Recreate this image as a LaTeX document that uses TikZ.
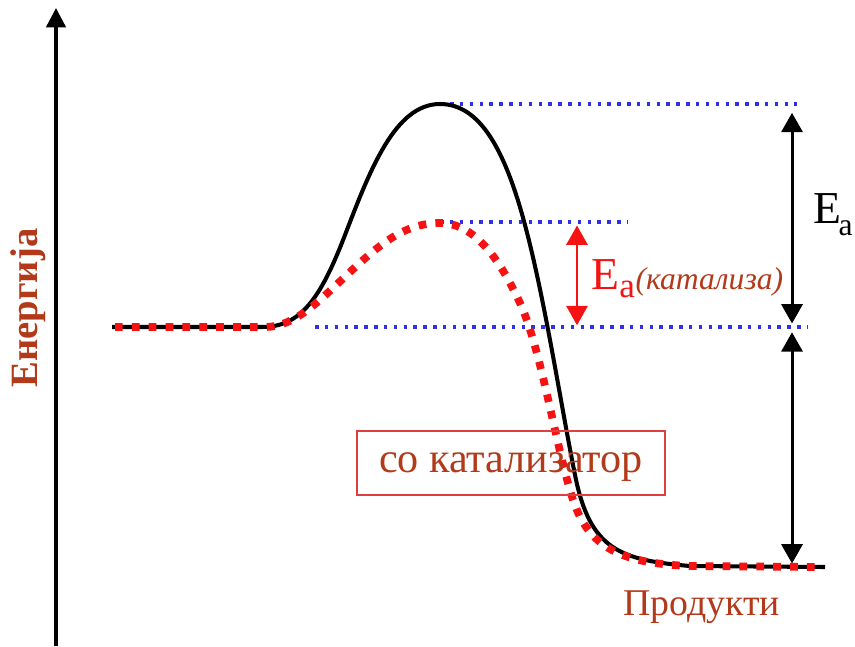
\documentclass[tikz,border=0pt]{standalone}
\usepackage{fontspec}
\setmainfont{Liberation Serif}
\usepackage{xcolor}
\usetikzlibrary{positioning,arrows.meta}

\definecolor{labelbrown}{RGB}{178,58,26}
\definecolor{boxred}{RGB}{222,62,62}
\definecolor{levelblue}{RGB}{48,48,232}
\definecolor{catred}{RGB}{246,18,18}

\begin{document}
\begin{tikzpicture}[x=0.02cm,y=-0.02cm,
  uncat/.style={line width=2.3pt,line join=round},
  catpath/.style={catred,line width=4.4pt,dash pattern=on 4.4pt off 5.2pt},
  level/.style={levelblue,line width=2pt,dash pattern=on 2pt off 3.6pt},
  gap/.style={line width=1.7pt,
    {Triangle[width=12pt,length=11pt]}-{Triangle[width=12pt,length=11pt]}},
  catgap/.style={catred,line width=1.5pt,
    {Triangle[width=12pt,length=11pt]}-{Triangle[width=12pt,length=11pt]}}]

  \useasboundingbox (0,0) rectangle (855,646);

  % energy axis
  \coordinate (origin) at (56,646);
  \coordinate (ytop) at (56,8);
  \draw[line width=1.9pt,-{Triangle[width=11pt,length=11pt]}] (origin) -- (ytop);
  \node[rotate=90,font=\bfseries\fontsize{22}{24}\selectfont,text=labelbrown]
    (energy) at (28,308) {Енергија};

  % energy levels
  \foreach \y/\a/\b in {104/450/797, 222/440/628, 327/315/808} {
    \draw[level] (\a,\y) -- (\b,\y);
  }

  % path without catalyst
  \draw[uncat] (112,327) -- (262,327)
    .. controls (300,327) and (320,300) .. (345,235)
    .. controls (370,170) and (395,104) .. (440,104)
    .. controls (480,104) and (505,150) .. (525,225)
    .. controls (545,300) and (560,400) .. (575,475)
    .. controls (590,550) and (620,560) .. (690,566) -- (825,567);

  % path with catalyst
  \draw[catpath] (115,327) -- (265,327)
    .. controls (295,327) and (320,300) .. (350,272)
    .. controls (380,244) and (405,223) .. (440,223)
    .. controls (475,223) and (500,260) .. (520,303)
    .. controls (540,346) and (555,440) .. (570,490)
    .. controls (585,545) and (615,563) .. (690,566) -- (820,567);

  % activation energies
  \coordinate (tstop) at (792,104);
  \coordinate (react) at (792,327);
  \coordinate (prod) at (792,567);
  \draw[gap,shorten <=5pt,shorten >=2pt] (tstop) -- (react);
  \draw[gap,shorten <=3pt,shorten >=2pt] (react) -- (prod);
  \node[anchor=base west,inner sep=0pt,font=\fontsize{26}{30}\selectfont]
    (ea) at (813,223) {E\kern-1.5pt\raisebox{-7pt}{\fontsize{18}{20}\selectfont a}};

  \coordinate (cattop) at (577,222);
  \coordinate (catbot) at (577,327);
  \draw[catgap,shorten <=2pt,shorten >=1pt] (cattop) -- (catbot);
  \node[anchor=base west,inner sep=0pt,text=catred,font=\fontsize{26}{30}\selectfont]
    (eacat) at (591,289) {E\raisebox{-5pt}{\fontsize{20}{22}\selectfont a}};
  \node[anchor=base west,inner sep=0pt,text=labelbrown,
        font=\itshape\fontsize{18}{20}\selectfont]
    (catname) at (eacat.base east) {(катализа)};

  % labels
  \node[draw=boxred,line width=1.1pt,minimum width=6.16cm,minimum height=1.28cm,
        text depth=0pt,text=labelbrown,font=\fontsize{24}{28}\selectfont]
    (catbox) at (511,463) {со катализатор};
  \node[anchor=base west,inner sep=0pt,text=labelbrown,
        font=\fontsize{21.5}{24}\selectfont]
    (products) at (623,615) {Продукти};

\end{tikzpicture}
\end{document}
